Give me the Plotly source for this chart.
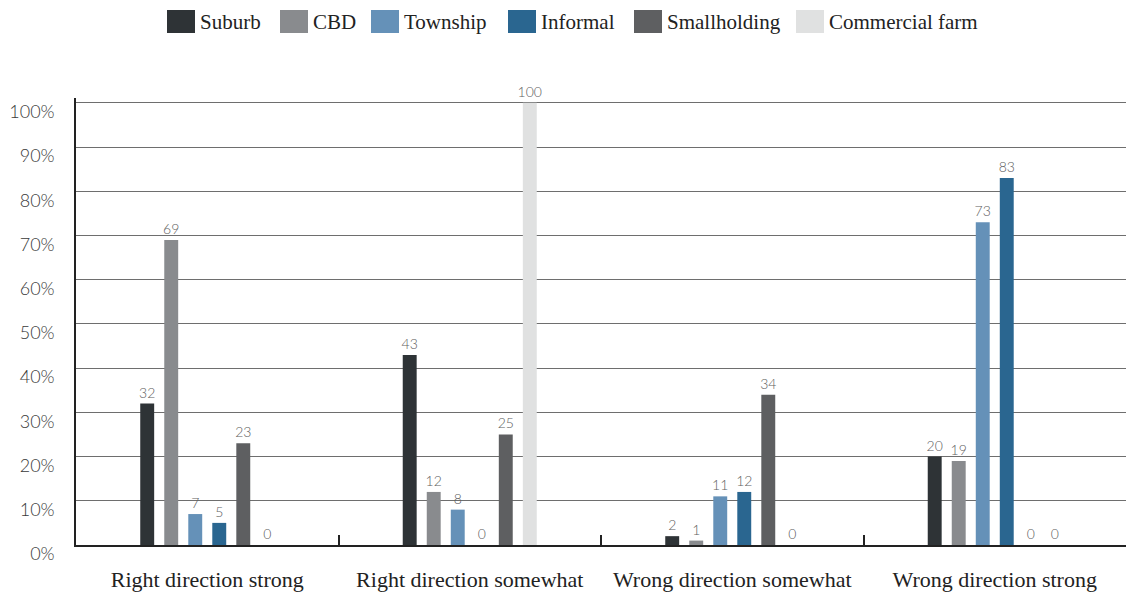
import plotly.graph_objects as go

categories = ["Right direction strong", "Right direction somewhat",
              "Wrong direction somewhat", "Wrong direction strong"]
series_names = ["Suburb", "CBD", "Township", "Informal", "Smallholding", "Commercial farm"]
suburb = [32, 43, 2, 20]
cbd = [69, 12, 1, 19]
township = [7, 8, 11, 73]
informal = [5, 0, 12, 83]
smallholding = [23, 25, 34, 0]
commercial_farm = [0, 100, 0, 0]
y_ticks = [0, 10, 20, 30, 40, 50, 60, 70, 80, 90, 100]
y_tick_labels = [f"{v}%" for v in y_ticks]

series_values = [suburb, cbd, township, informal, smallholding, commercial_farm]
colors = ["#2e3336", "#898b8e", "#6591b8", "#2a6690", "#5e5f61", "#e0e1e1"]

# page body has an 8px default margin, so the figure is drawn offset by 8px
OFF = 8
W, H = 1141 - OFF, 594 - OFF
ML, MR, MT, MB = 76 - OFF, 15, 98 - OFF, 49
PW, PH = W - ML - MR, H - MT - MB

def px_x(x):
    return (x - OFF - ML) / PW

def px_y(y):
    return (H - MB - (y - OFF)) / PH

num_font = dict(family="Lato, 'Open Sans', sans-serif", size=14, color="#606060", weight=300)
serif = "'Liberation Serif', 'DejaVu Serif', serif"

fig = go.Figure()
for name, vals, col in zip(series_names, series_values, colors):
    fig.add_trace(go.Bar(
        x=categories, y=vals, name=name, marker=dict(color=col, line=dict(width=0)),
        text=[str(v) for v in vals], textposition="outside", textfont=num_font,
        cliponaxis=False, constraintext="none", showlegend=False,
    ))

# custom legend (big square swatches)
sq_x = [167, 280, 371, 508, 634, 796]
shapes = []
annotations = []
for name, col, x0 in zip(series_names, colors, sq_x):
    shapes.append(dict(type="rect", xref="paper", yref="paper",
                       x0=px_x(x0), x1=px_x(x0 + 28), y0=px_y(33), y1=px_y(10),
                       fillcolor=col, line=dict(width=0)))
    annotations.append(dict(xref="paper", yref="paper", x=px_x(x0 + 31), y=px_y(21.5),
                            xanchor="left", yanchor="middle", showarrow=False,
                            text=name, font=dict(family=serif, size=21, color="#222222")))

fig.update_layout(
    width=W, height=H,
    margin=dict(l=ML, r=MR, t=MT, b=MB, autoexpand=False),
    paper_bgcolor="white", plot_bgcolor="white",
    barmode="group", bargap=0.451, bargroupgap=0.42,
    shapes=shapes, annotations=annotations,
    showlegend=False,
    xaxis=dict(
        type="category", tickson="boundaries", ticks="inside", ticklen=10,
        tickcolor="#222222", tickwidth=1.5, automargin=False,
        showline=True, linecolor="#222222", linewidth=2,
        showgrid=False, ticklabelstandoff=14,
        tickfont=dict(family=serif, size=22, color="#222222"),
    ),
    yaxis=dict(
        range=[0, 101.1], tickvals=y_ticks, ticktext=y_tick_labels,
        showgrid=True, gridcolor="#6e6e6e", gridwidth=1.3, automargin=False,
        showline=True, linecolor="#222222", linewidth=1.5,
        zeroline=False, ticks="", ticklabelstandoff=16, ticklabelshift=9,
        tickfont=dict(family="Lato, 'Open Sans', sans-serif", size=18, color="#3a3a3a", weight=300),
    ),
)

fig.write_html("out.html")
